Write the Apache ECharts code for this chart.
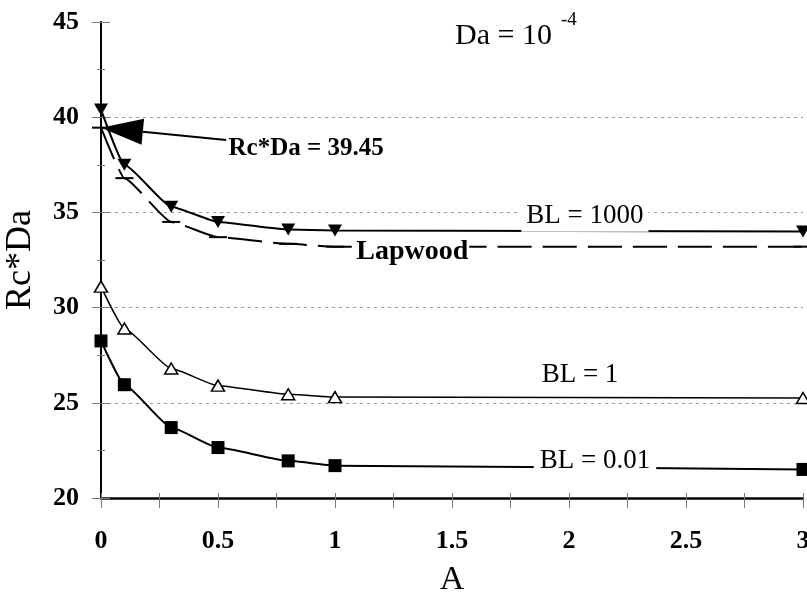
<!DOCTYPE html>
<html>
<head>
<meta charset="utf-8">
<script src="https://cdn.jsdelivr.net/npm/echarts@6/dist/echarts.min.js"></script>
<style>
  html, body { margin: 0; padding: 0; background: #ffffff; }
  #chart { width: 807px; height: 592px; }
</style>
</head>
<body>
<div id="chart"></div>
<script>
// Critical Rayleigh number (Rc*Da) against A, Da = 1e-4
const aValues      = [0, 0.1, 0.3, 0.5, 0.8, 1, 3];
const bl1000       = [40.4, 37.5, 35.3, 34.5, 34.1, 34.05, 34.0];
const lapwood      = [39.45, 36.8, 34.5, 33.7, 33.35, 33.2, 33.2];
const bl1          = [31.1, 28.9, 26.8, 25.9, 25.45, 25.3, 25.25];
const bl001        = [28.25, 25.95, 23.7, 22.65, 21.95, 21.7, 21.5];
const xTickValues  = [0, 0.5, 1, 1.5, 2, 2.5, 3];
const yTickValues  = [20, 25, 30, 35, 40, 45];

const SERIF = "'Liberation Serif', 'Times New Roman', serif";
const pairs = ys => aValues.map((a, i) => [a, ys[i]]);

const chart = echarts.init(document.getElementById('chart'), null, { renderer: 'canvas' });

const xRange = { min: xTickValues[0], max: xTickValues[xTickValues.length - 1], interval: xTickValues[1] - xTickValues[0] };
const yRange = { min: yTickValues[0], max: yTickValues[yTickValues.length - 1], interval: yTickValues[1] - yTickValues[0] };
const tickStyle = { color: '#777', width: 1 };
const SMOOTH = 0.15;

const option = {
  backgroundColor: '#ffffff',
  animation: false,
  grid: { left: 101, right: 4, top: 22, bottom: 94, containLabel: false, outerBoundsMode: 'none' },
  xAxis: [
    {
      type: 'value', ...xRange,
      name: 'A', nameLocation: 'middle', nameGap: 65,
      nameTextStyle: { fontFamily: SERIF, fontSize: 34, color: '#000' },
      axisLine: { show: true, onZero: false, lineStyle: { color: '#000', width: 2.5 } },
      axisTick: { show: true, length: 10, lineStyle: tickStyle },
      minorTick: { show: true, splitNumber: 2, length: 10, lineStyle: tickStyle },
      axisLabel: { margin: 30, fontFamily: SERIF, fontWeight: 'bold', fontSize: 26, color: '#000' },
      splitLine: { show: false }
    },
    {
      type: 'value', ...xRange, position: 'bottom',
      axisLine: { show: false },
      axisTick: { show: true, inside: true, length: 5, lineStyle: tickStyle },
      minorTick: { show: true, splitNumber: 2, length: 5, lineStyle: tickStyle },
      axisLabel: { show: false },
      splitLine: { show: false }
    }
  ],
  yAxis: [
    {
      type: 'value', ...yRange,
      name: 'Rc*Da', nameLocation: 'middle', nameGap: 62,
      nameTextStyle: { fontFamily: SERIF, fontSize: 36, color: '#000' },
      axisLine: { show: true, onZero: false, lineStyle: { color: '#000', width: 2 } },
      axisTick: { show: true, length: 9, lineStyle: tickStyle },
      minorTick: { show: true, splitNumber: 2, length: 4, lineStyle: tickStyle },
      axisLabel: { margin: 22, fontFamily: SERIF, fontWeight: 'bold', fontSize: 26, color: '#000' },
      splitLine: {
        show: true, showMinLine: false, showMaxLine: false,
        lineStyle: { color: '#999', width: 1, type: [3, 4] }
      }
    },
    {
      type: 'value', ...yRange, position: 'left',
      axisLine: { show: false },
      axisTick: { show: true, inside: true, length: 9, lineStyle: tickStyle },
      minorTick: { show: true, splitNumber: 2, length: 4, lineStyle: tickStyle },
      axisLabel: { show: false },
      splitLine: { show: false }
    }
  ],
  series: [
    {
      name: 'BL = 1000', type: 'line', data: pairs(bl1000),
      smooth: SMOOTH, smoothMonotone: 'x',
      symbol: 'triangle', symbolRotate: 180, symbolSize: [14, 12],
      itemStyle: { color: '#000' },
      lineStyle: { color: '#000', width: 2 }, z: 4
    },
    {
      name: 'Lapwood', type: 'line', data: pairs(lapwood),
      smooth: SMOOTH, smoothMonotone: 'x',
      symbol: 'rect', symbolSize: [18, 2],
      itemStyle: { color: '#000' },
      lineStyle: { color: '#000', width: 2, type: [34, 11] }, z: 3
    },
    {
      name: 'BL = 1', type: 'line', data: pairs(bl1),
      smooth: SMOOTH, smoothMonotone: 'x',
      symbol: 'triangle', symbolSize: [13, 11],
      itemStyle: { color: '#fff', borderColor: '#000', borderWidth: 1.5 },
      lineStyle: { color: '#000', width: 1.5 }, z: 4
    },
    {
      name: 'BL = 0.01', type: 'line', data: pairs(bl001),
      smooth: SMOOTH, smoothMonotone: 'x',
      symbol: 'rect', symbolSize: 13,
      itemStyle: { color: '#000' },
      lineStyle: { color: '#000', width: 2 }, z: 4
    }
  ]
};

chart.setOption(option);

// Annotations placed in data coordinates and converted through the axes
const px = (a, v) => chart.convertToPixel({ xAxisIndex: 0, yAxisIndex: 0 }, [a, v]);

function label(text, a, v, opts) {
  const p = px(a, v);
  return {
    type: 'text', x: p[0], y: p[1], z: 100,
    style: Object.assign({
      text: text, fill: '#000', fontFamily: SERIF, fontSize: 27,
      align: 'center', verticalAlign: 'middle'
    }, opts || {})
  };
}

const tip = px(0, lapwood[0]);
const tail = px(0.535, 38.8);
const dx = tail[0] - tip[0], dy = tail[1] - tip[1];
const len = Math.hypot(dx, dy);
const ux = dx / len, uy = dy / len;
const headLen = 42, headHalf = 13;
const base = [tip[0] + ux * headLen, tip[1] + uy * headLen];
const c1 = [base[0] - uy * headHalf, base[1] + ux * headHalf];
const c2 = [base[0] + uy * headHalf, base[1] - ux * headHalf];

chart.setOption({
  graphic: [
    { type: 'line', z: 100, shape: { x1: base[0], y1: base[1], x2: tail[0], y2: tail[1] },
      style: { stroke: '#000', lineWidth: 2 } },
    { type: 'polygon', z: 100, shape: { points: [tip, c1, c2] }, style: { fill: '#000' } },
    label('Rc*Da = 39.45', 0.545, 38.35, { align: 'left', fontWeight: 'bold', fontSize: 25 }),
    label('BL = 1000', 2.068, 34.8, { backgroundColor: '#fff', padding: [2, 5] }),
    label('Lapwood', 1.33, 32.92, { backgroundColor: '#fff', padding: [0, 1], fontWeight: 'bold', fontSize: 28 }),
    label('BL = 1', 2.047, 26.45),
    label('BL = 0.01', 2.111, 21.95, { backgroundColor: '#fff', padding: [2, 6] }),
    label('Da = 10', 1.513, 44.25, { align: 'left', fontSize: 30 }),
    label('-4', 1.966, 45.1, { align: 'left', fontSize: 19 })
  ]
});
</script>
</body>
</html>
